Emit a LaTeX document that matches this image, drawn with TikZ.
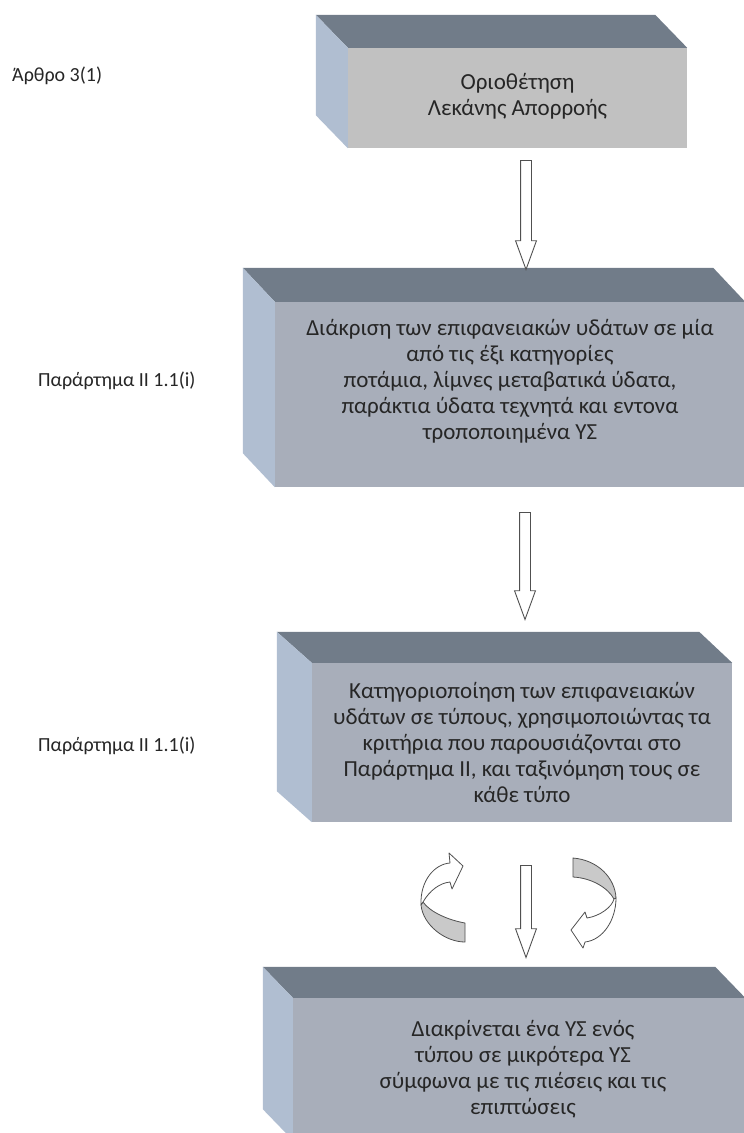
\documentclass[tikz,border=0pt]{standalone}
\usepackage{fontspec}
\setmainfont{Carlito}
\usepackage{xcolor}
\usepackage{tikz}
\usetikzlibrary{shapes.arrows}
\definecolor{frontlight}{HTML}{C1C1C1}
\definecolor{frontblue}{HTML}{A8AEBA}
\definecolor{topgrey}{HTML}{717C89}
\definecolor{sideblue}{HTML}{B0BED1}
\definecolor{ribbongrey}{HTML}{C9C9C9}
\definecolor{edgegrey}{HTML}{505050}

\begin{document}
\begin{tikzpicture}[x=1pt,y=-1pt,
  frontbox/.style={fill=frontblue, inner sep=0pt},
  boxtext/.style={align=center, inner sep=0pt, text=black!85,
    font=\fontsize{23}{26}\selectfont},
  topface/.style={fill=topgrey},
  sideface/.style={fill=sideblue},
  sidelabel/.style={anchor=west, inner sep=0pt, text=black!85,
    font=\fontsize{20}{24}\selectfont},
  blockarrow/.style={single arrow, draw=edgegrey, fill=white, line width=0.9pt,
    minimum width=20pt, single arrow head extend=5pt, single arrow tip angle=40,
    shape border rotate=270, inner sep=5pt},
  curvearrow/.style={draw=edgegrey, line width=0.8pt, line join=round}]
\clip (0,0) rectangle (744,1133);
\fill[white] (0,0) rectangle (744,1133);

% Ετικέτες αριστερά
\node[sidelabel] (art) at (12,76) {Άρθρο 3(1)};
\node[sidelabel] (par1) at (38,381) {Παράρτημα ΙΙ 1.1(i)};
\node[sidelabel] (par2) at (38,746) {Παράρτημα ΙΙ 1.1(i)};

% Πρώτο κουτί
\node[frontbox, fill=frontlight, minimum width=339pt, minimum height=100pt] (b1) at (517.5,98) {};
\fill[topface] (b1.north west) -- (b1.north east) -- ([shift={(-32,-33)}]b1.north east)
  -- ([shift={(-32,-33)}]b1.north west) -- cycle;
\fill[sideface] (b1.north west) -- ([shift={(-32,-33)}]b1.north west)
  -- ([shift={(-32,-33)}]b1.south west) -- (b1.south west) -- cycle;
\node[boxtext] (t1) at ([yshift=2pt]b1.center) {Οριοθέτηση\\Λεκάνης Απορροής};

% Δεύτερο κουτί
\node[frontbox, minimum width=470pt, minimum height=185pt] (b2) at (510,394.5) {};
\fill[topface] (b2.north west) -- (b2.north east) -- ([shift={(-32,-34)}]b2.north east)
  -- ([shift={(-32,-34)}]b2.north west) -- cycle;
\fill[sideface] (b2.north west) -- ([shift={(-32,-34)}]b2.north west)
  -- ([shift={(-32,-34)}]b2.south west) -- (b2.south west) -- cycle;
\node[boxtext] (t2) at ([yshift=13pt]b2.center)
  {Διάκριση των επιφανειακών υδάτων σε μία\\από τις έξι κατηγορίες\\ποτάμια, λίμνες μεταβατικά ύδατα,\\
   παράκτια ύδατα τεχνητά και εντονα\\τροποποιημένα ΥΣ};

% Τρίτο κουτί
\node[frontbox, minimum width=420pt, minimum height=159pt] (b3) at (522,742.5) {};
\fill[topface] (b3.north west) -- (b3.north east) -- ([shift={(-33,-31)}]b3.north east)
  -- ([shift={(-35,-31)}]b3.north west) -- cycle;
\fill[sideface] (b3.north west) -- ([shift={(-35,-31)}]b3.north west)
  -- ([shift={(-35,-31)}]b3.south west) -- (b3.south west) -- cycle;
\node[boxtext] (t3) at (b3.center)
  {Κατηγοριοποίηση των επιφανειακών\\υδάτων σε τύπους, χρησιμοποιώντας τα\\κριτήρια που παρουσιάζονται στο\\
   Παράρτημα ΙΙ, και ταξινόμηση τους σε\\κάθε τύπο};

% Τέταρτο κουτί
\node[frontbox, minimum width=452pt, minimum height=142pt] (b4) at (519,1069) {};
\fill[topface] (b4.north west) -- (b4.north east) -- ([shift={(-30,-31)}]b4.north east)
  -- ([shift={(-30,-31)}]b4.north west) -- cycle;
\fill[sideface] (b4.north west) -- ([shift={(-30,-31)}]b4.north west)
  -- ([shift={(-30,-31)}]b4.south west) -- (b4.south west) -- cycle;
\node[boxtext] (t4) at ([xshift=4pt]b4.center)
  {Διακρίνεται ένα ΥΣ ενός\\τύπου σε μικρότερα ΥΣ\\σύμφωνα με τις πιέσεις και τις\\επιπτώσεις};

% Βέλη προς τα κάτω
\node[blockarrow, minimum height=109pt] (a1) at (526,207.5) {};
\node[blockarrow, minimum height=107pt] (a2) at (525,558.5) {};
\node[blockarrow, minimum height=92pt] (a3) at (526,904) {};

% Κυκλικό βέλος αριστερά
\filldraw[curvearrow, fill=ribbongrey] (421,905) .. controls (423,925) and (445,942) .. (465,942)
  -- (465,923) .. controls (448,920) and (430,912) .. (423,902) -- cycle;
\filldraw[curvearrow, fill=white] (423,902) .. controls (430,890) and (440,883) .. (450,882)
  -- (452,889) -- (463,866) -- (449,853) -- (450,863)
  .. controls (435,864) and (420,880) .. (421,905) -- cycle;

% Κυκλικό βέλος δεξιά
\filldraw[curvearrow, fill=ribbongrey] (573,858) .. controls (598,860) and (615,878) .. (616,898)
  -- (614,899) .. controls (608,888) and (592,878) .. (573,877) -- cycle;
\filldraw[curvearrow, fill=white] (616,898) .. controls (616,920) and (603,940) .. (585,942)
  -- (583,948) -- (571,930) -- (585,912) -- (587,918)
  .. controls (600,916) and (612,907) .. (614,899) -- cycle;

\end{tikzpicture}
\end{document}
